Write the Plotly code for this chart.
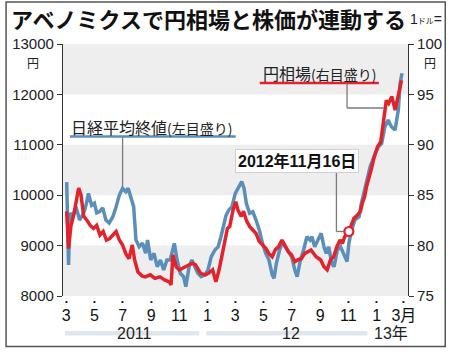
import plotly.graph_objects as go
import pandas as pd

# ---------------- data ----------------
nikkei_dates = [
    "2011-03-16", "2011-03-20", "2011-03-23", "2011-03-29", "2011-04-05", "2011-04-13", "2011-04-19",
    "2011-04-24", "2011-04-28", "2011-05-02", "2011-05-09", "2011-05-15", "2011-05-20", "2011-05-26",
    "2011-06-02", "2011-06-09", "2011-06-16", "2011-06-24", "2011-07-01", "2011-07-08", "2011-07-15",
    "2011-07-22", "2011-07-27", "2011-08-02", "2011-08-08", "2011-08-13", "2011-08-20", "2011-08-27",
    "2011-09-03", "2011-09-07", "2011-09-14", "2011-09-21", "2011-09-28", "2011-10-05", "2011-10-12",
    "2011-10-19", "2011-10-26", "2011-11-04", "2011-11-10", "2011-11-17", "2011-11-24", "2011-11-29",
    "2011-12-06", "2011-12-12", "2011-12-18", "2011-12-25", "2012-01-01", "2012-01-09", "2012-01-16",
    "2012-01-23", "2012-01-31", "2012-02-07", "2012-02-13", "2012-02-20", "2012-02-24", "2012-03-01",
    "2012-03-08", "2012-03-15", "2012-03-22", "2012-03-29", "2012-04-03", "2012-04-08", "2012-04-15",
    "2012-04-22", "2012-04-29", "2012-05-06", "2012-05-13", "2012-05-20", "2012-05-27", "2012-06-03",
    "2012-06-07", "2012-06-12", "2012-06-19", "2012-06-26", "2012-07-01", "2012-07-08", "2012-07-15",
    "2012-07-22", "2012-07-27", "2012-08-03", "2012-08-10", "2012-08-17", "2012-08-24", "2012-08-28",
    "2012-09-03", "2012-09-10", "2012-09-17", "2012-09-23", "2012-09-28", "2012-10-03", "2012-10-10",
    "2012-10-15", "2012-10-22", "2012-10-29", "2012-11-05", "2012-11-12", "2012-11-16", "2012-11-22",
    "2012-11-29", "2012-12-08", "2012-12-13", "2012-12-20", "2012-12-27", "2013-01-01", "2013-01-12",
    "2013-01-19", "2013-01-26", "2013-02-02", "2013-02-09", "2013-02-16", "2013-02-24", "2013-03-03",
    "2013-03-07", "2013-03-11",
]
nikkei_close = [
    10260, 8615, 9647, 9573, 9772, 9508, 9600,
    9706, 9850, 10037, 9800, 9840, 9650, 9672,
    9746, 9508, 9448, 9573, 9772, 10004, 10137,
    10070, 10137, 9970, 9772, 9111, 8978, 9050,
    8847, 9111, 8714, 8847, 8582, 8714, 8516,
    8714, 8714, 9045, 8714, 8450, 8383, 8185,
    8582, 8714, 8582, 8450, 8383, 8417, 8516,
    8780, 8913, 8978, 9176, 9442, 9600, 9706,
    9772, 10037, 10170, 10268, 10137, 9840, 9640,
    9672, 9508, 9310, 9045, 8847, 8714, 8417,
    8351, 8649, 8913, 9077, 8978, 8879, 8780,
    8516, 8383, 8714, 8913, 9176, 9111, 9176,
    8978, 9111, 9244, 8978, 8847, 8978, 8649,
    8582, 8913, 8978, 8847, 8681, 9045, 9310,
    9508, 9573, 9840, 10103, 10367, 10565, 10830,
    10962, 11029, 11360, 11492, 11360, 11294, 11690,
    12220, 12419,
]

yen_dates = [
    "2011-03-16", "2011-03-20", "2011-03-25", "2011-04-01", "2011-04-06", "2011-04-11", "2011-04-16",
    "2011-04-22", "2011-04-29", "2011-05-06", "2011-05-13", "2011-05-20", "2011-05-27", "2011-06-03",
    "2011-06-10", "2011-06-17", "2011-06-24", "2011-07-01", "2011-07-08", "2011-07-15", "2011-07-22",
    "2011-07-29", "2011-08-05", "2011-08-10", "2011-08-17", "2011-08-26", "2011-09-02", "2011-09-13",
    "2011-09-23", "2011-10-04", "2011-10-14", "2011-10-24", "2011-10-28", "2011-11-01", "2011-11-08",
    "2011-11-15", "2011-11-22", "2011-11-29", "2011-12-06", "2011-12-13", "2011-12-20", "2011-12-31",
    "2012-01-10", "2012-01-17", "2012-01-26", "2012-02-02", "2012-02-09", "2012-02-16", "2012-02-23",
    "2012-02-27", "2012-03-03", "2012-03-10", "2012-03-16", "2012-03-21", "2012-03-28", "2012-04-02",
    "2012-04-08", "2012-04-15", "2012-04-22", "2012-04-29", "2012-05-06", "2012-05-13", "2012-05-20",
    "2012-05-27", "2012-06-03", "2012-06-10", "2012-06-17", "2012-06-24", "2012-07-01", "2012-07-08",
    "2012-07-15", "2012-07-22", "2012-07-29", "2012-08-05", "2012-08-12", "2012-08-19", "2012-08-26",
    "2012-09-06", "2012-09-16", "2012-09-23", "2012-09-30", "2012-10-07", "2012-10-14", "2012-10-21",
    "2012-10-28", "2012-11-02", "2012-11-07", "2012-11-16", "2012-11-22", "2012-11-27", "2012-12-04",
    "2012-12-11", "2012-12-15", "2012-12-20", "2012-12-24", "2012-12-29", "2013-01-03", "2013-01-10",
    "2013-01-17", "2013-01-24", "2013-01-31", "2013-02-05", "2013-02-10", "2013-02-17", "2013-02-24",
    "2013-03-01", "2013-03-06", "2013-03-10",
]
yen_rate = [
    83.4, 79.7, 81.9, 83.2, 84.5, 85.7, 85.0,
    82.9, 82.5, 82.0, 81.7, 82.0, 81.05, 81.4,
    80.55, 80.7, 81.05, 81.4, 80.55, 80.06, 79.2,
    78.7, 80.06, 78.6, 77.4, 77.0, 76.9, 77.1,
    76.75, 76.9, 76.6, 76.4, 76.1, 79.07, 77.9,
    77.6, 77.75, 77.9, 78.1, 78.25, 78.1, 77.25,
    77.1, 77.25, 77.6, 76.4, 77.6, 79.2, 80.9,
    81.7, 81.9, 83.5, 84.35, 83.5, 82.9, 83.4,
    82.5, 81.9, 81.55, 81.2, 80.4, 80.06, 79.73,
    79.2, 78.9, 79.6, 79.9, 80.55, 79.9, 79.4,
    79.07, 78.4, 78.6, 78.7, 79.2, 79.4, 79.56,
    78.9, 78.57, 77.9, 77.6, 78.57, 78.9, 79.9,
    80.55, 80.2, 80.9, 81.4, 82.2, 82.7, 83.0,
    83.4, 84.2, 84.85, 85.8, 86.8, 87.5, 88.8,
    89.8, 90.3, 92.5, 94.4, 94.1, 94.8, 93.45,
    94.4, 95.4, 96.4,
]

month_tick_dates = ["2011-03-15", "2011-05-15", "2011-07-15", "2011-09-15", "2011-11-15",
                    "2012-01-15", "2012-03-15", "2012-05-15", "2012-07-15", "2012-09-15",
                    "2012-11-15", "2013-01-15", "2013-03-15"]
month_tick_labels = ["3", "5", "7", "9", "11", "1", "3", "5", "7", "9", "11", "1", "3月"]
left_ticks = [8000, 9000, 10000, 11000, 12000, 13000]
left_tick_labels = ["8000", "9000", "10000", "11000", "12000", "13000"]
right_ticks = [75, 80, 85, 90, 95, 100]
right_tick_labels = ["75", "80", "85", "90", "95", "100"]
year_labels = ["2011", "12", "13年"]
year_label_dates = ["2011-08-10", "2012-07-14", "2013-02-15"]
year_bar_ranges = [("2011-03-12", "2011-12-28"), ("2012-01-12", "2012-12-26")]
marker_date = "2012-11-16"

title_text = "アベノミクスで円相場と株価が連動する"
nikkei_label = "日経平均終値<span style='font-size:14px'>(左目盛り)</span>"
yen_label = "円相場<span style='font-size:14px'>(右目盛り)</span>"
date_label = "<b>2012年11月16日</b>"

BLUE = "#5b8fbb"
RED = "#e3232c"
GREY_LINE = "#7a7a7a"
FONT = "Liberation Sans, Noto Sans CJK JP, sans-serif"
JFONT = "Noto Sans CJK JP, sans-serif"

# ---------------- figure ----------------
fig = go.Figure()
fig.add_trace(go.Scatter(x=nikkei_dates, y=nikkei_close, mode="lines",
                         line=dict(color=BLUE, width=3.5), yaxis="y", hoverinfo="skip"))
fig.add_trace(go.Scatter(x=yen_dates, y=yen_rate, mode="lines",
                         line=dict(color=RED, width=3.5), yaxis="y2", hoverinfo="skip"))

yen_series = pd.Series(yen_rate, index=pd.to_datetime(yen_dates))
marker_val = float(yen_series[pd.Timestamp(marker_date)])
fig.add_trace(go.Scatter(x=[marker_date], y=[marker_val], mode="markers", yaxis="y2",
                         marker=dict(symbol="circle", size=9, color="white",
                                     line=dict(color=RED, width=2.2)),
                         hoverinfo="skip"))

nk = pd.Series(nikkei_close, index=pd.to_datetime(nikkei_dates))
summer = nk["2011-07-01":"2011-07-20"]
peak_date = summer.idxmax()
peak_val = float(summer.max())

shapes = []
for lo in (8000, 10000, 12000):
    shapes.append(dict(type="rect", xref="paper", yref="y", x0=0, x1=1, y0=lo, y1=lo + 1000,
                       fillcolor="#eeeeee", line=dict(width=0), layer="below"))
shapes.append(dict(type="line", xref="x", yref="y", x0=peak_date, x1=peak_date,
                   y0=peak_val + 30, y1=11165, line=dict(color=GREY_LINE, width=1.3), layer="below"))
shapes.append(dict(type="line", xref="x", yref="y", x0="2011-03-23", x1="2012-03-16",
                   y0=11165, y1=11165, line=dict(color=BLUE, width=2.5)))
shapes.append(dict(type="line", xref="x", yref="y", x0="2012-05-07", x1="2013-01-20",
                   y0=12226, y1=12226, line=dict(color=RED, width=2.5)))
shapes.append(dict(type="line", xref="x", yref="y", x0="2012-11-12", x1="2012-11-12",
                   y0=12226, y1=11730, line=dict(color=GREY_LINE, width=1.3)))
shapes.append(dict(type="line", xref="x", yref="y", x0="2012-11-12", x1="2013-01-30",
                   y0=11730, y1=11730, line=dict(color=GREY_LINE, width=1.3), layer="below"))
shapes.append(dict(type="line", xref="x", yref="y2", x0="2012-10-20", x1="2012-10-20",
                   y0=87.3, y1=marker_val, line=dict(color=GREY_LINE, width=1.3)))
shapes.append(dict(type="line", xref="x", yref="y2", x0="2012-10-20", x1=marker_date,
                   y0=marker_val, y1=marker_val, line=dict(color=GREY_LINE, width=1.3), layer="below"))
for a, b in year_bar_ranges:
    shapes.append(dict(type="rect", xref="x", yref="paper", x0=a, x1=b, y0=-0.157, y1=-0.139,
                       fillcolor="#dfe7ee", line=dict(width=0), layer="below"))
shapes.append(dict(type="rect", xref="paper", yref="paper", x0=-0.165, x1=1.108,
                   y0=-0.2, y1=1.167, line=dict(color="#555555", width=1.5)))

annotations = []
annotations.append(dict(text=title_text, xref="paper", yref="paper", x=-0.157, y=1.103,
                        xanchor="left", yanchor="middle", showarrow=False,
                        font=dict(family=JFONT, size=22, color="#111111", weight="bold")))
annotations.append(dict(text="1<span style='font-size:8px'>ドル</span>=", xref="paper", yref="paper",
                        x=1.105, y=1.1, xanchor="right", yanchor="middle", showarrow=False,
                        font=dict(family=FONT, size=14, color="#222222")))
annotations.append(dict(text="円", xref="paper", yref="paper", x=-0.088, y=0.928,
                        xanchor="center", yanchor="middle", showarrow=False,
                        font=dict(family=JFONT, size=12, color="#222222")))
annotations.append(dict(text="円", xref="paper", yref="paper", x=1.063, y=0.928,
                        xanchor="center", yanchor="middle", showarrow=False,
                        font=dict(family=JFONT, size=12, color="#222222")))
annotations.append(dict(text=nikkei_label, xref="x", yref="y", x="2011-03-21", y=11353,
                        xanchor="left", yanchor="middle", showarrow=False,
                        font=dict(family=JFONT, size=16, color="#222222")))
annotations.append(dict(text=yen_label, xref="x", yref="y", x="2012-05-09", y=12425,
                        xanchor="left", yanchor="middle", showarrow=False,
                        font=dict(family=JFONT, size=16, color="#222222")))
annotations.append(dict(text=date_label, xref="x", yref="y2", x="2012-07-27", y=88.39,
                        xanchor="center", yanchor="middle", showarrow=False,
                        bgcolor="white", bordercolor="#d0d0d0", borderwidth=1, borderpad=2,
                        font=dict(family=FONT, size=16, color="#111111")))
for d in month_tick_dates:
    annotations.append(dict(text="•", xref="x", yref="paper", x=d, y=-0.022,
                            xanchor="center", yanchor="middle", showarrow=False,
                            font=dict(family=FONT, size=8, color="#111111")))
for lab, d in zip(year_labels, year_label_dates):
    annotations.append(dict(text=lab, xref="x", yref="paper", x=d, y=-0.149,
                            xanchor="center", yanchor="middle", showarrow=False,
                            font=dict(family=FONT, size=16, color="#222222")))

fig.update_layout(
    width=454, height=352,
    margin=dict(l=60, r=43, t=44, b=56),
    paper_bgcolor="white", plot_bgcolor="white",
    showlegend=False,
    shapes=shapes, annotations=annotations,
    xaxis=dict(type="date", range=["2011-03-08", "2013-03-24"],
               tickvals=month_tick_dates, ticktext=month_tick_labels,
               showgrid=False, zeroline=False, showline=False, ticks="",
               tickfont=dict(family=FONT, size=16, color="#111111"),
               ticklabelstandoff=8),
    yaxis=dict(range=[8000, 13000], tickvals=left_ticks, ticktext=left_tick_labels,
               showgrid=False, zeroline=False,
               showline=True, linecolor="#333333", linewidth=1.2,
               ticks="outside", ticklen=5, tickcolor="#333333",
               tickfont=dict(family=FONT, size=15, color="#222222")),
    yaxis2=dict(range=[75, 100], tickvals=right_ticks, ticktext=right_tick_labels,
                overlaying="y", side="right",
                showgrid=False, zeroline=False,
                showline=True, linecolor="#333333", linewidth=1.2,
                ticks="outside", ticklen=5, tickcolor="#333333",
                tickfont=dict(family=FONT, size=15, color="#222222")),
)

fig.write_html("out.html")
